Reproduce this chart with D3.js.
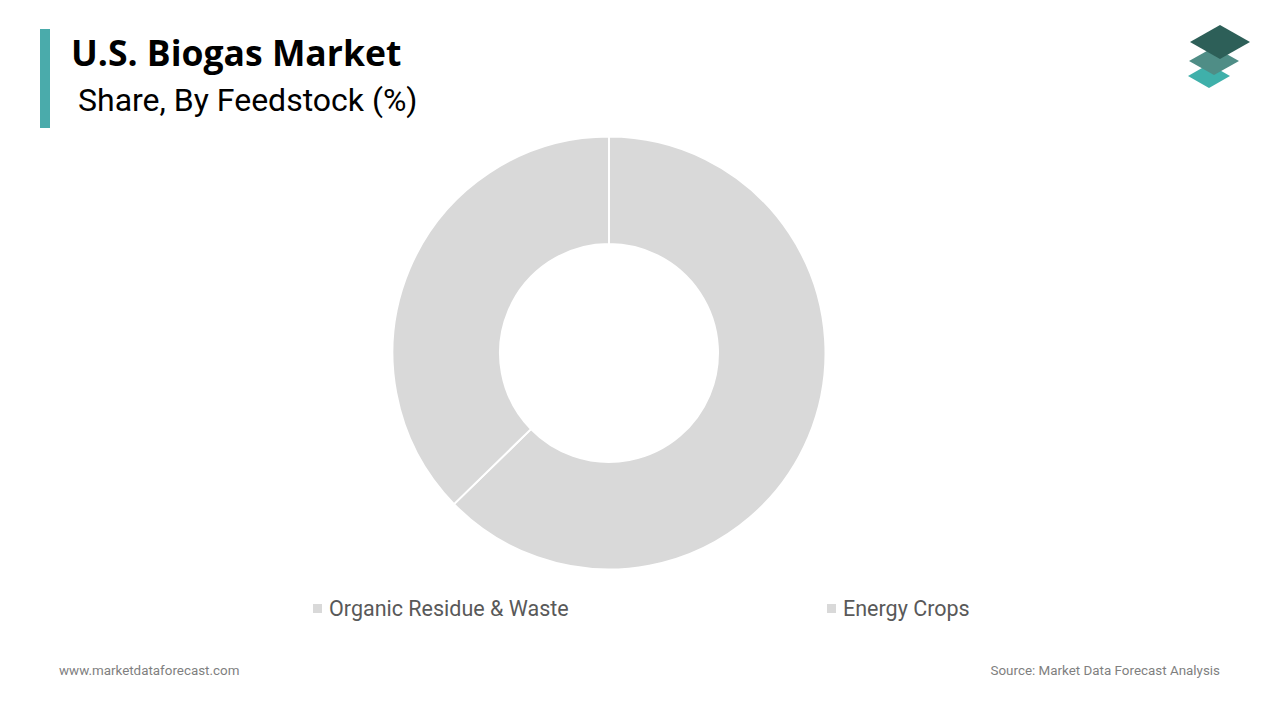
<!DOCTYPE html>
<html><head><meta charset="utf-8">
<script src="https://cdn.jsdelivr.net/npm/d3@7"></script>
<style>
html,body{margin:0;padding:0;background:#fff;}
svg{display:block;}
</style></head>
<body>
<svg id="chart" width="1280" height="720"></svg>
<script>
const categories = ["Organic Residue & Waste", "Energy Crops"];
const shares = [62.7, 37.3];
const colors = ["#d9d9d9", "#d9d9d9"];
const titleText = "U.S. Biogas Market";
const subtitleText = "Share, By Feedstock (%)";
const footerLeft = "www.marketdataforecast.com";
const footerRight = "Source: Market Data Forecast Analysis";

const svg = d3.select("#chart");

// title bar
svg.append("rect").attr("x", 40).attr("y", 29).attr("width", 10).attr("height", 99).attr("fill", "#4aabab");
svg.append("text").attr("x", 71).attr("y", 66).text(titleText)
  .attr("font-family", "'Open Sans', sans-serif").attr("font-weight", 700).attr("font-size", 35.5).attr("fill", "#000");
svg.append("text").attr("x", 78).attr("y", 111).text(subtitleText)
  .attr("font-family", "Roboto, sans-serif").attr("font-size", 32).attr("fill", "#000");

// logo
const logo = svg.append("g");
const diamond = (cx, cy, w, h) => `M${cx - w/2},${cy} L${cx},${cy - h/2} L${cx + w/2},${cy} L${cx},${cy + h/2} Z`;
logo.append("path").attr("d", diamond(1209, 76, 42, 24)).attr("fill", "#3fb0aa");
logo.append("path").attr("d", diamond(1214, 61, 50, 28)).attr("fill", "#4f8d86");
logo.append("path").attr("d", diamond(1220, 42, 60, 34)).attr("fill", "#2d5f58");

// donut
const cx = 609, cy = 353, outerR = 216.5, innerR = 109;
const pie = d3.pie().sort(null).value(d => d.v);
const arcs = pie(categories.map((c, i) => ({ c, v: shares[i] })));
const arc = d3.arc().innerRadius(innerR).outerRadius(outerR);
svg.append("g").attr("transform", `translate(${cx},${cy})`)
  .selectAll("path").data(arcs).join("path")
  .attr("d", arc).attr("fill", (d, i) => colors[i])
  .attr("stroke", "#fff").attr("stroke-width", 2);

// legend
const legendX = [313, 827];
const lg = svg.append("g");
categories.forEach((c, i) => {
  lg.append("rect").attr("x", legendX[i]).attr("y", 604).attr("width", 9).attr("height", 9).attr("fill", colors[i]);
  lg.append("text").attr("x", legendX[i] + 16).attr("y", 616).text(c)
    .attr("font-family", "Roboto, sans-serif").attr("font-size", 21.5).attr("fill", "#595959");
});

// footer
svg.append("text").attr("x", 59).attr("y", 675).text(footerLeft)
  .attr("font-family", "Roboto, sans-serif").attr("font-size", 13.4).attr("fill", "#7f7f7f");
svg.append("text").attr("x", 1220).attr("y", 675).attr("text-anchor", "end").text(footerRight)
  .attr("font-family", "Roboto, sans-serif").attr("font-size", 13.4).attr("fill", "#7f7f7f");
</script>
</body></html>
